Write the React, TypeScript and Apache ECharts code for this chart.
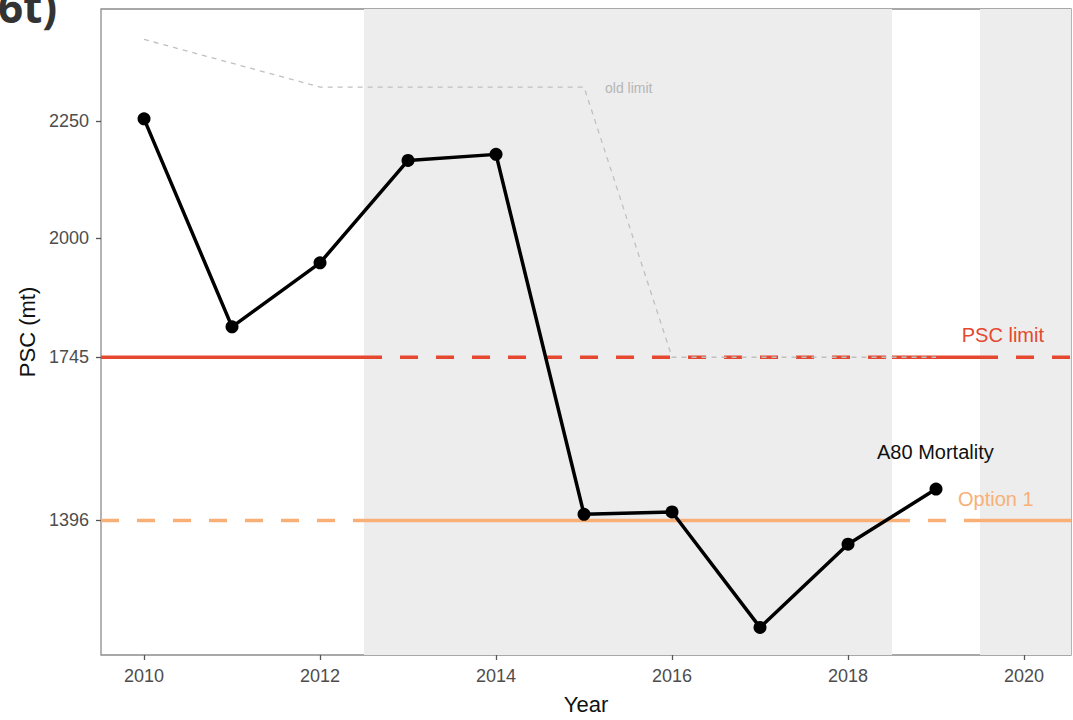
import React, { useEffect, useRef } from "react";
import * as echarts from "echarts";

// data
const years = [2010, 2011, 2012, 2013, 2014, 2015, 2016, 2017, 2018, 2019];
const mortality = [2255, 1810, 1947, 2166, 2179, 1409, 1414, 1167, 1345, 1463];

const oldLimitYears = [2010, 2012, 2015, 2016, 2019];
const oldLimitValues = [2425, 2323, 2323, 1745, 1745];

const pscLimit = 1745;
const option1 = 1396;

const yTicks = [1396, 1745, 2000, 2250];
const xTicks = [2010, 2012, 2014, 2016, 2018, 2020];

// grey bands (start, end) in years
const bands = [
  [2012.5, 2018.5],
  [2019.5, 2020.534],
];

const X_MIN = 2009.511;
const X_MAX = 2020.534;
const Y_MIN = 1108;
const Y_MAX = 2490;

// band edges; the two reference lines swap solid/dashed at each edge
const edges = [X_MIN, 2012.5, 2018.5, 2019.5, X_MAX];

const FONT = "Liberation Sans, Arial, sans-serif";
const RED = "#e5472f";
const ORANGE = "#f9b077";

function segments(value: number, color: string, solidFirst: boolean, name: string) {
  const out: any[] = [];
  for (let i = 0; i < edges.length - 1; i++) {
    const solid = (i % 2 === 0) === solidFirst;
    out.push({
      name,
      type: "line",
      data: [
        [edges[i], value],
        [edges[i + 1], value],
      ],
      symbol: "none",
      z: 3,
      lineStyle: { color, width: 3.5, type: solid ? "solid" : [18, 18] },
      silent: true,
    });
  }
  return out;
}

const App: React.FC = () => {
  const chartRef = useRef<HTMLDivElement>(null);

  useEffect(() => {
    if (!chartRef.current) return;
    const chart = echarts.init(chartRef.current, null, { renderer: "svg" });

    const option = {
      animation: false,
      backgroundColor: "#ffffff",
      textStyle: { fontFamily: FONT },
      grid: {
        left: 101,
        right: 2,
        top: 9,
        bottom: 62,
        show: true,
        borderColor: "#8c8c8c",
        borderWidth: 1.3,
        backgroundColor: "#ffffff",
      },
      xAxis: {
        type: "value",
        min: X_MIN,
        max: X_MAX,
        name: "Year",
        nameLocation: "middle",
        nameGap: 38,
        nameTextStyle: { color: "#111", fontSize: 22, fontFamily: FONT },
        axisLine: { show: false },
        splitLine: { show: false },
        axisTick: {
          show: true,
          length: 5,
          customValues: xTicks,
          lineStyle: { color: "#555", width: 1.3 },
        },
        axisLabel: {
          customValues: xTicks,
          color: "#4d4d4d",
          fontSize: 18,
          margin: 12,
          formatter: (v: number) => String(v),
        },
      },
      yAxis: {
        type: "value",
        min: Y_MIN,
        max: Y_MAX,
        name: "PSC (mt)",
        nameLocation: "middle",
        nameGap: 59,
        nameTextStyle: { color: "#111", fontSize: 22, fontFamily: FONT },
        axisLine: { show: false },
        splitLine: { show: false },
        axisTick: {
          show: true,
          length: 5,
          customValues: yTicks,
          lineStyle: { color: "#555", width: 1.3 },
        },
        axisLabel: {
          customValues: yTicks,
          color: "#4d4d4d",
          fontSize: 18,
          margin: 12,
          formatter: (v: number) => String(v),
        },
      },
      series: [
        {
          name: "bands",
          type: "line",
          data: [],
          silent: true,
          z: 1,
          markArea: {
            silent: true,
            itemStyle: { color: "#ededed" },
            data: bands.map((b) => [{ xAxis: b[0] }, { xAxis: b[1] }]),
          },
        },
        ...segments(pscLimit, RED, true, "PSC limit"),
        ...segments(option1, ORANGE, false, "Option 1"),
        {
          name: "old limit",
          type: "line",
          data: oldLimitYears.map((y, i) => [y, oldLimitValues[i]]),
          symbol: "none",
          z: 4,
          silent: true,
          lineStyle: { color: "#c0c0c0", width: 1.3, type: [5, 5] },
        },
        {
          name: "A80 Mortality",
          type: "line",
          data: years.map((y, i) => [y, mortality[i]]),
          symbol: "circle",
          symbolSize: 13,
          z: 5,
          itemStyle: { color: "#000000" },
          lineStyle: { color: "#000000", width: 3.5 },
        },
      ],
      graphic: [
        {
          type: "text",
          x: -2,
          y: 28,
          z: 100,
          style: {
            text: "6t)",
            fill: "#333333",
            font: "bold 44px 'Open Sans', sans-serif",
            verticalAlign: "bottom",
          },
        },
        {
          type: "text",
          x: 605,
          y: 88,
          z: 100,
          style: {
            text: "old limit",
            fill: "#b5b5b5",
            font: `14px ${FONT}`,
            verticalAlign: "middle",
          },
        },
        {
          type: "text",
          x: 1044,
          y: 335,
          z: 100,
          style: {
            text: "PSC limit",
            fill: RED,
            font: `20px ${FONT}`,
            align: "right",
            verticalAlign: "middle",
          },
        },
        {
          type: "text",
          x: 877,
          y: 452,
          z: 100,
          style: {
            text: "A80 Mortality",
            fill: "#111111",
            font: `20px ${FONT}`,
            verticalAlign: "middle",
          },
        },
        {
          type: "text",
          x: 958,
          y: 499,
          z: 100,
          style: {
            text: "Option 1",
            fill: ORANGE,
            font: `20px ${FONT}`,
            verticalAlign: "middle",
          },
        },
      ],
    };

    chart.setOption(option);
    return () => {
      chart.dispose();
    };
  }, []);

  return (
    <div
      ref={chartRef}
      style={{ position: "fixed", left: 0, top: 0, width: 1073, height: 720 }}
    />
  );
};

export default App;
